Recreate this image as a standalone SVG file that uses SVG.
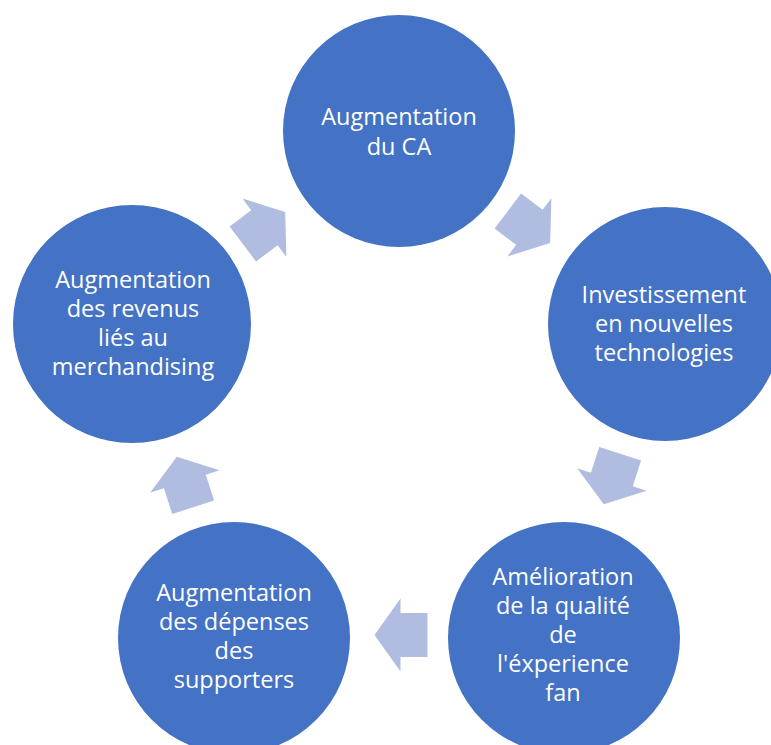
<svg xmlns="http://www.w3.org/2000/svg" width="771" height="745" viewBox="0 0 771 745">
  <style>
    .node { fill: #4472C4; }
    .label { fill: #FFFFFF; font-family: "Open Sans", "Noto Sans", "Liberation Sans", sans-serif; font-size: 23.5px; text-anchor: middle; }
    .arrow { fill: #B0BDE0; }
  </style>
  <defs>
    <!-- right-pointing block arrow centred on the origin -->
    <polygon id="blockArrow" points="-26.5,-22 0.5,-22 0.5,-36.5 26.5,0 0.5,36.5 0.5,22 -26.5,22"/>
  </defs>

  <g id="connectors" class="arrow">
    <use href="#blockArrow" transform="translate(529,227) rotate(37)"/>
    <use href="#blockArrow" transform="translate(612,479) rotate(108)"/>
    <use href="#blockArrow" transform="translate(401,635) rotate(180)"/>
    <use href="#blockArrow" transform="translate(185,482) rotate(252)"/>
    <use href="#blockArrow" transform="translate(264,228) rotate(323)"/>
  </g>

  <g id="node-ca">
    <circle class="node" cx="399" cy="131" r="116"/>
    <text class="label"><tspan x="399" y="125">Augmentation</tspan><tspan x="399" y="155">du CA</tspan></text>
  </g>

  <g id="node-tech">
    <circle class="node" cx="665" cy="324" r="117"/>
    <text class="label"><tspan x="664" y="303">Investissement</tspan><tspan x="664" y="332">en nouvelles</tspan><tspan x="664" y="361">technologies</tspan></text>
  </g>

  <g id="node-experience">
    <circle class="node" cx="564" cy="638" r="116"/>
    <text class="label"><tspan x="563" y="585">Amélioration</tspan><tspan x="563" y="614">de la qualité</tspan><tspan x="563" y="643">de</tspan><tspan x="563" y="672">l'éxperience</tspan><tspan x="563" y="701">fan</tspan></text>
  </g>

  <g id="node-depenses">
    <circle class="node" cx="234" cy="638" r="116"/>
    <text class="label"><tspan x="234" y="601">Augmentation</tspan><tspan x="234" y="630">des dépenses</tspan><tspan x="234" y="659">des</tspan><tspan x="234" y="688">supporters</tspan></text>
  </g>

  <g id="node-merch">
    <circle class="node" cx="132" cy="324" r="119"/>
    <text class="label"><tspan x="133" y="288">Augmentation</tspan><tspan x="133" y="317">des revenus</tspan><tspan x="133" y="346">liés au</tspan><tspan x="133" y="375">merchandising</tspan></text>
  </g>
</svg>
